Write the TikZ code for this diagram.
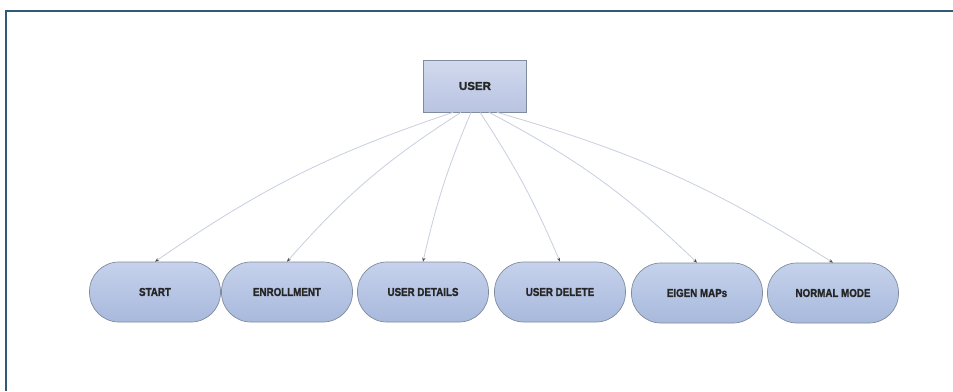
\documentclass[tikz,border=0pt]{standalone}
\usepackage{fontspec}
\setmainfont{Liberation Sans}
\newfontfamily\narrowsans{Liberation Sans}[FakeStretch=0.85,FakeBold=1.5]
\newfontfamily\usersans{Liberation Sans}[FakeBold=1.5]
\usetikzlibrary{arrows.meta}
\definecolor{framec}{HTML}{2F5A78}
\definecolor{boxtop}{HTML}{D2D9EE}
\definecolor{boxbot}{HTML}{B9C4E2}
\definecolor{ovaltop}{HTML}{C6D2EC}
\definecolor{ovalbot}{HTML}{A8B9DC}
\definecolor{ovalline}{HTML}{7F8C9E}
\definecolor{linkc}{HTML}{C8CFDE}
\tikzset{
  userbox/.style={draw=ovalline, line width=0.7pt, top color=boxtop, bottom color=boxbot,
    minimum width=103pt, minimum height=52pt, inner sep=0pt,
    font=\usersans\fontsize{11.5}{12}\selectfont\bfseries, text=black!85},
  ovalbox/.style={draw=ovalline, line width=0.7pt, top color=ovaltop, bottom color=ovalbot,
    rounded corners=29.5pt, minimum width=131pt, minimum height=60pt, inner sep=0pt,
    font=\narrowsans\fontsize{11.5}{12}\selectfont\bfseries, text=black!85},
  link/.style={draw=linkc, line width=0.8pt,
    -{Stealth[length=4pt,width=3.2pt,color=black!70]}}
}
\begin{document}
\begin{tikzpicture}[x=1pt,y=-1pt]
\useasboundingbox (0,0) rectangle (953,391);
\fill[white] (0,0) rectangle (953,391);
\draw[framec, line width=2pt] (6,391) -- (6,11) -- (953,11);
\node[userbox] (user) at (475,86) {USER};
\node[ovalbox] (start) at (155,292) {START};
\node[ovalbox] (enroll) at (287,292) {ENROLLMENT};
\node[ovalbox] (details) at (423,292) {USER DETAILS};
\node[ovalbox] (delete) at (560,292) {USER DELETE};
\node[ovalbox] (eigen) at (697,293) {EIGEN MAPs};
\node[ovalbox] (normal) at (833,293) {NORMAL MODE};
\draw[link] ([xshift=-22pt]user.south) to[bend right=8] (start.north);
\draw[link] ([xshift=-14pt]user.south) to[bend right=8] (enroll.north);
\draw[link] ([xshift=-4pt]user.south) to[bend right=5] (details.north);
\draw[link] ([xshift=5pt]user.south) to[bend left=5] (delete.north);
\draw[link] ([xshift=14pt]user.south) to[bend left=8] (eigen.north);
\draw[link] ([xshift=22pt]user.south) to[bend left=8] (normal.north);
\end{tikzpicture}
\end{document}
